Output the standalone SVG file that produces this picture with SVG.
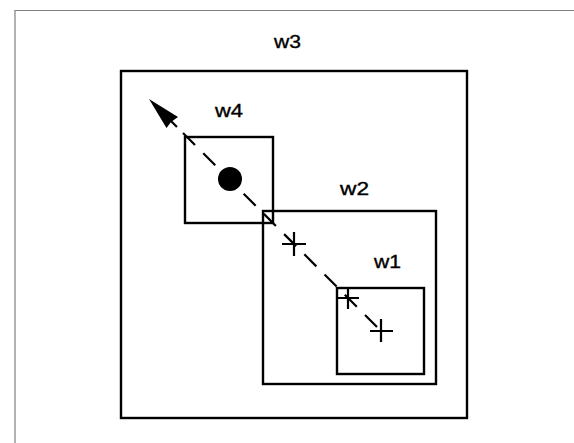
<svg xmlns="http://www.w3.org/2000/svg" width="574" height="443" viewBox="0 0 574 443">
<style>
.frame{fill:none;stroke:#808080;stroke-width:1.2}
.box{fill:none;stroke:#000;stroke-width:2.4}
.lbl{font-family:"Liberation Sans",Arial,sans-serif;font-size:18px;fill:#000;stroke:#000;stroke-width:0.35}
.cross{stroke:#000;stroke-width:2.2;fill:none}
.dash{stroke:#000;stroke-width:2.2;fill:none;stroke-dasharray:17 11.6}
</style>
<rect width="574" height="443" fill="#fff"/>
<path class="frame" d="M15,443 V10.5 H574"/>
<g id="w3">
<rect class="box" x="121" y="71" width="346" height="347"/>
<text class="lbl" x="274" y="48" textLength="27" lengthAdjust="spacingAndGlyphs">w3</text>
</g>
<g id="w4">
<rect class="box" x="185" y="137" width="88" height="86"/>
<text class="lbl" x="215" y="117" textLength="28" lengthAdjust="spacingAndGlyphs">w4</text>
<circle cx="230" cy="179" r="12" fill="#000"/>
</g>
<g id="w2">
<rect class="box" x="263" y="211" width="173" height="173"/>
<text class="lbl" x="340" y="195" textLength="29" lengthAdjust="spacingAndGlyphs">w2</text>
</g>
<g id="w1">
<rect class="box" x="337" y="288" width="87" height="86"/>
<text class="lbl" x="374" y="268" textLength="27" lengthAdjust="spacingAndGlyphs">w1</text>
</g>
<g id="points">
<path class="cross" d="M282,244 H306 M294,232 V256"/>
<path class="cross" d="M337,298 H359 M348,287 V309"/>
<path class="cross" d="M370,331 H393 M381,319 V342"/>
</g>
<g id="connectors">
<polygon points="149,99 166.5,128 171,122 178,117" fill="#000"/>
<path d="M170,120 L177,127" stroke="#000" stroke-width="2.2"/>
<path class="dash" d="M183,133 L381,331"/>
</g>
</svg>
